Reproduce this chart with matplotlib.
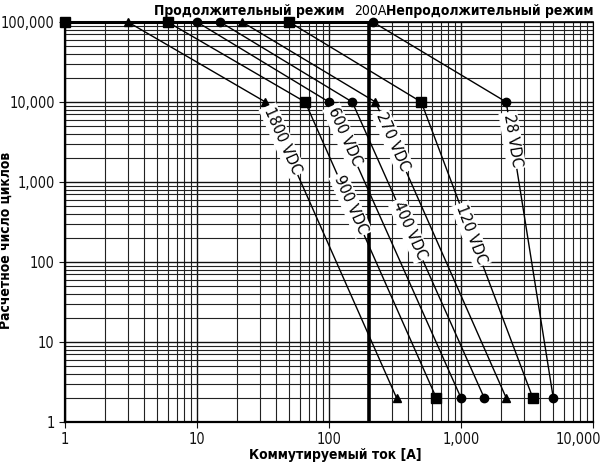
import numpy as np
import matplotlib
matplotlib.use("Agg")
import matplotlib.pyplot as plt
import matplotlib.transforms as mtransforms
from matplotlib import font_manager
from matplotlib.ticker import FixedLocator, LogLocator, NullFormatter

# pick a narrow face if one is installed, else Liberation Sans
font_names = {(f.name, f.stretch) for f in font_manager.fontManager.ttflist}
names_only = {n for n, _ in font_names}
if "Liberation Sans Narrow" in names_only:
    FAMILY, STRETCH, SCALE = "Liberation Sans Narrow", "normal", 1.1
elif ("DejaVu Sans", "condensed") in font_names:
    FAMILY, STRETCH, SCALE = "DejaVu Sans", "condensed", 0.95
else:
    FAMILY, STRETCH, SCALE = "Liberation Sans", "normal", 0.9
plt.rcParams["font.family"] = [FAMILY, "DejaVu Sans"]
plt.rcParams["font.stretch"] = STRETCH

# curve data: current [A] at 100,000 cycles, at 10,000 cycles and at 2 cycles
voltages = ["1800 VDC", "900 VDC", "600 VDC", "400 VDC", "270 VDC", "120 VDC", "28 VDC"]
markers = ["^", "s", "o", "o", "^", "s", "o"]
i_top = [3, 6, 10, 15, 22, 50, 215]
i_mid = [33, 66, 100, 150, 225, 500, 2200]
i_end = [325, 650, 1000, 1500, 2200, 3500, 5000]
cycles = [100000, 10000, 2]
start_point = (1, 100000)
limit_current = 200

# label centre heights (cycles) along the steep segment
label_cycles = [3300, 520, 3700, 250, 3200, 220, 3300]

x_ticks = [1, 10, 100, 1000, 10000]
y_ticks = [1, 10, 100, 1000, 10000, 100000]

fig = plt.figure(figsize=(6.08, 4.66), dpi=100)
ax = fig.add_axes([65 / 608, 44 / 466, 528 / 608, 400 / 466])
ax.set_xscale("log")
ax.set_yscale("log")
ax.set_xlim(1, 10000)
ax.set_ylim(1, 100000)

fs = 11 * SCALE
ax.xaxis.set_major_locator(FixedLocator(x_ticks))
ax.yaxis.set_major_locator(FixedLocator(y_ticks))
ax.xaxis.set_minor_locator(LogLocator(base=10, subs=np.arange(2, 10)))
ax.yaxis.set_minor_locator(LogLocator(base=10, subs=np.arange(2, 10)))
ax.xaxis.set_minor_formatter(NullFormatter())
ax.yaxis.set_minor_formatter(NullFormatter())
ax.set_xticklabels([f"{v:,}" for v in x_ticks])
ax.set_yticklabels([f"{v:,}" for v in y_ticks])
ax.tick_params(which="major", direction="out", length=4, width=0.8, labelsize=fs, colors="#111")
ax.tick_params(which="minor", length=0)
# nudge the last x label inwards like the original
last = ax.get_xticklabels()[-1]
last.set_transform(last.get_transform() + mtransforms.ScaledTranslation(-15 / 100, 0, fig.dpi_scale_trans))

ax.grid(which="major", color="#111", lw=1.0)
ax.grid(which="minor", color="#222", lw=0.8)
ax.set_axisbelow(True)
for side in ["left", "bottom"]:
    ax.spines[side].set_linewidth(1.6)
ax.spines["top"].set_linewidth(1.2)
ax.spines["right"].set_linewidth(0.8)

# continuous duty line at 100,000 cycles and the 200A limit
ax.plot([start_point[0], i_top[-1]], [cycles[0], cycles[0]], color="black", lw=2.2, clip_on=False, zorder=3)
ax.plot(*start_point, marker="s", color="black", ms=7, clip_on=False, zorder=4)
ax.axvline(limit_current, color="black", lw=2.6, zorder=3)

for name, m, a, b, c, yl in zip(voltages, markers, i_top, i_mid, i_end, label_cycles):
    xs = [a, b, c]
    ax.plot(xs, cycles, color="black", lw=1.0, zorder=3, clip_on=False)
    ms = 7 if m == "s" else 6
    ax.plot(xs, cycles, ls="none", marker=m, color="black", ms=ms, zorder=4, clip_on=False)

    # label on the steep segment
    p0 = ax.transData.transform((b, cycles[1]))
    p1 = ax.transData.transform((c, cycles[2]))
    angle = np.degrees(np.arctan2(p1[1] - p0[1], p1[0] - p0[0]))
    t = (np.log10(yl) - np.log10(cycles[1])) / (np.log10(cycles[2]) - np.log10(cycles[1]))
    xl = 10 ** (np.log10(b) + t * (np.log10(c) - np.log10(b)))
    ax.text(xl, yl, name, rotation=angle + 180 if angle < -90 else angle,
            rotation_mode="anchor", ha="center", va="center", fontsize=12 * SCALE, zorder=5,
            bbox=dict(facecolor="white", edgecolor="none", pad=1.5))

hfs = 10.5 * SCALE
fig.text(345 / 608, 1 - 11 / 466, "Продолжительный режим", ha="right", va="center",
         fontsize=hfs, fontweight="bold")
fig.text(370 / 608, 1 - 11 / 466, "200A", ha="center", va="center", fontsize=hfs)
fig.text(593 / 608, 1 - 11 / 466, "Непродолжительный режим", ha="right", va="center",
         fontsize=hfs, fontweight="bold")

ax.set_xlabel("Коммутируемый ток [A]", fontsize=hfs, fontweight="bold")
ax.xaxis.set_label_coords((335 - 65) / 528, -(448 - 422) / 400)
ax.set_ylabel("Расчетное число циклов", fontsize=hfs, fontweight="bold")
ax.yaxis.set_label_coords(-(65 - 13) / 528, (422 - 240) / 400)

fig.savefig("out.png", dpi=100)
